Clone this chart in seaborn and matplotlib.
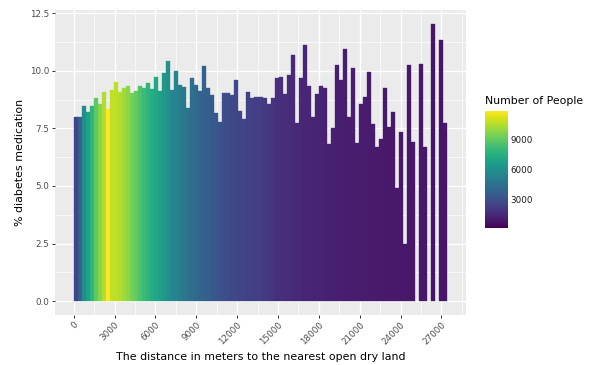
import numpy as np
import matplotlib
matplotlib.use("Agg")
import matplotlib.pyplot as plt
import matplotlib.colors as mcolors
from matplotlib.ticker import MultipleLocator
import seaborn as sns

# Share of people on diabetes medication per distance band (width in metres)
bin_width = 295
pct_medication = [
    7.98, 7.98, 8.48, 8.23, 8.48, 8.81, 8.57, 9.07, 8.36, 9.17,
    9.52, 9.07, 9.25, 9.33, 9.03, 9.12, 9.33, 9.25, 9.48, 9.20,
    9.74, 9.12, 9.91, 10.43, 9.17, 9.99, 9.39, 9.29, 8.39, 9.67,
    9.40, 9.12, 10.22, 9.25, 8.93, 8.16, 7.78, 9.03, 9.03, 8.93,
    9.61, 8.26, 7.91, 9.09, 8.83, 8.86, 8.86, 8.80, 8.57, 8.84,
    9.68, 9.72, 9.01, 9.80, 10.67, 7.75, 9.67, 11.12, 9.33, 7.99,
    8.99, 9.35, 9.26, 6.81, 7.52, 10.25, 9.61, 10.94, 8.01, 10.12,
    6.88, 8.55, 8.86, 9.97, 7.70, 6.68, 7.03, 9.25, 7.57, 8.22,
    4.93, 7.35, 2.48, 10.25, 6.93, np.nan, 10.30, 6.70, np.nan, 12.04,
    np.nan, 11.33, 7.72,
]
num_people = [
    2464, 3631, 5732, 6782, 7716, 8883, 9699, 10400, 11800, 10750,
    10633, 10516, 10166, 9816, 9349, 9000, 8532, 8066, 7716, 7365,
    7132, 6782, 6432, 5965, 5615, 5382, 5031, 4798, 4565, 4331,
    4098, 3864, 3748, 3631, 3398, 3281, 3048, 2931, 2814, 2697,
    2581, 2464, 2464, 2347, 2347, 2231, 2231, 2114, 1997, 1880,
    1764, 1700, 1640, 1580, 1520, 1470, 1420, 1380, 1340, 1300,
    1260, 1230, 1200, 1170, 1140, 1120, 1100, 1080, 1060, 1040,
    1020, 1000, 985, 970, 955, 940, 925, 910, 900, 890,
    880, 870, 860, 850, 840, np.nan, 830, 820, np.nan, 810,
    np.nan, 800, 790,
]
x_ticks = [0, 3000, 6000, 9000, 12000, 15000, 18000, 21000, 24000, 27000]
y_ticks = [0.0, 2.5, 5.0, 7.5, 10.0, 12.5]
cbar_ticks = [3000, 6000, 9000]

sns.set_theme(style="darkgrid", rc={
    "axes.facecolor": "#EBEBEB",
    "grid.color": "white",
    "axes.edgecolor": "none",
})
plt.rcParams["font.family"] = ["DejaVu Sans"]

fig = plt.figure(figsize=(5.93, 3.65), dpi=100)
W, H = 593, 365
ax = fig.add_axes([55 / W, (H - 315) / H, (466 - 55) / W, (315 - 10) / H])

heights = np.asarray(pct_medication, dtype=float)
counts = np.asarray(num_people, dtype=float)
lefts = np.arange(len(heights)) * bin_width
valid = ~np.isnan(heights)

cmap = plt.get_cmap("viridis")
norm = mcolors.Normalize(vmin=130, vmax=11800)
colors = cmap(norm(counts[valid]))
ax.bar(lefts[valid], heights[valid], width=bin_width, align="edge",
       color=colors, edgecolor=colors, linewidth=0.25)

xmax = len(heights) * bin_width
ax.set_xlim(-0.05 * xmax, 1.05 * xmax)
ymax = np.nanmax(heights)
ax.set_ylim(-0.05 * ymax, 1.05 * ymax)

ax.set_xticks(x_ticks)
ax.set_xticklabels([str(t) for t in x_ticks], rotation=45, ha="right",
                   va="top", rotation_mode="anchor")
ax.set_yticks(y_ticks)
ax.set_yticklabels([f"{t:.1f}" for t in y_ticks])
ax.xaxis.set_minor_locator(MultipleLocator(1500))
ax.yaxis.set_minor_locator(MultipleLocator(1.25))
ax.grid(which="major", color="white", linewidth=1.0)
ax.grid(which="minor", color="white", linewidth=0.5)
ax.set_axisbelow(True)
ax.tick_params(which="major", length=2.5, width=0.7, color="#333333",
               labelsize=6.3, labelcolor="#4D4D4D", pad=1.5,
               bottom=True, left=True)
ax.tick_params(which="minor", length=0)
for s in ax.spines.values():
    s.set_visible(False)

ax.set_xlabel("The distance in meters to the nearest open dry land",
              fontsize=7.95, color="black", labelpad=4)
ax.set_ylabel("% diabetes medication", fontsize=7.95, color="black", labelpad=4)

# Colour bar for the number of people in each band
cax = fig.add_axes([485 / W, (H - 228) / H, 23 / W, (228 - 111) / H])
sm = plt.cm.ScalarMappable(norm=norm, cmap=cmap)
cb = fig.colorbar(sm, cax=cax, ticks=cbar_ticks)
cb.outline.set_visible(False)
cax.tick_params(axis="y", which="major", direction="in", length=3.2,
                width=0.8, color="white", left=True, right=True,
                labelleft=False, labelright=True, labelsize=6.3,
                labelcolor="#1A1A1A", pad=2)
cax.tick_params(which="minor", length=0)
cax.grid(False)
fig.text(485 / W, (H - 101) / H, "Number of People", fontsize=7.8,
         color="black", ha="left", va="center")

fig.savefig("out.png", dpi=100)
